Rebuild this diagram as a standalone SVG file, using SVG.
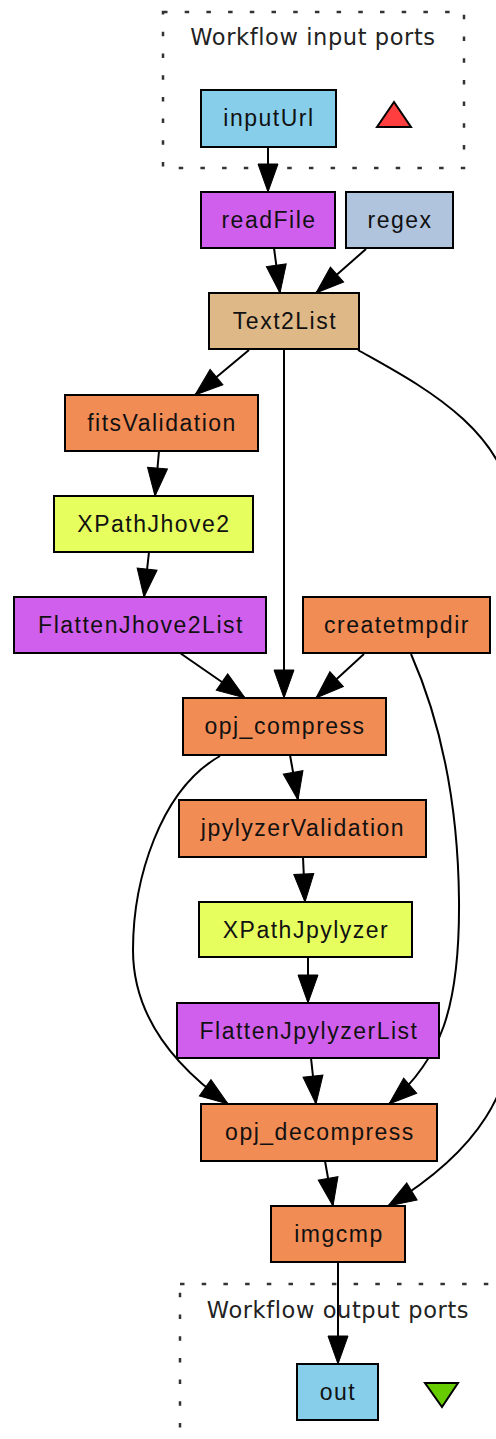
<svg xmlns="http://www.w3.org/2000/svg" width="496" height="1439" viewBox="0 0 496 1439">
<style>
.cl{fill:none;stroke:#333;stroke-width:2.5;stroke-dasharray:4.5 17.2}
.ct{font-family:"DejaVu Sans",sans-serif;font-size:22.5px;letter-spacing:0.6px;fill:#222;text-anchor:middle}
.n{stroke:#000;stroke-width:2}
.t{font-family:"Liberation Sans",Arial,sans-serif;font-size:23px;letter-spacing:1.5px;fill:#111;text-anchor:middle}
.e{fill:none;stroke:#000;stroke-width:2;marker-end:url(#ah)}
.or{fill:#f28c55}.pu{fill:#d15fee}.ye{fill:#e6ff5e}.tan{fill:#deb887}.sb{fill:#87ceeb}.ls{fill:#b0c4de}
</style>
<defs>
<marker id="ah" markerUnits="userSpaceOnUse" markerWidth="30" markerHeight="22" refX="28" refY="10" orient="auto" overflow="visible">
<path d="M0,0 L28,10 L0,20 Z" fill="#000" stroke="#000" stroke-width="1"/>
</marker>
</defs>
<rect width="496" height="1439" fill="#fff"/>
<g id="cluster_inputs">
<rect class="cl" x="163" y="12" width="301" height="156"/>
<text class="ct" x="313" y="45">Workflow input ports</text>
<polygon points="377,127 411,127 394,102" fill="#ff3f3f" stroke="#000" stroke-width="2"/>
</g>
<g id="cluster_outputs">
<rect class="cl" x="180" y="1284" width="360" height="200"/>
<text class="ct" x="338" y="1318">Workflow output ports</text>
<polygon points="425,1383 458,1383 442,1407" fill="#66cc00" stroke="#000" stroke-width="2"/>
</g>
<g id="connectors">
<path class="e" d="M268,147 L268,192"/>
<path class="e" d="M274,248 L280,293"/>
<path class="e" d="M366,249 L316,293"/>
<path class="e" d="M249,350 L195,395"/>
<path class="e" d="M284,349 L284,698"/>
<path class="e" d="M358,350 C420,385 510,430 515,520 L515,1010 C515,1090 480,1150 388,1206"/>
<path class="e" d="M159,451 L155,496"/>
<path class="e" d="M149,552 L144,597"/>
<path class="e" d="M180,653 L245,698"/>
<path class="e" d="M364,654 L316,698"/>
<path class="e" d="M411,654 C440,720 458,800 459,900 C460,1010 440,1060 389,1104"/>
<path class="e" d="M290,755 L298,800"/>
<path class="e" d="M220,756 C160,790 133,880 133,950 C133,1020 180,1070 228,1104"/>
<path class="e" d="M303,857 L305,902"/>
<path class="e" d="M308,957 L308,1003"/>
<path class="e" d="M311,1058 L316,1104"/>
<path class="e" d="M325,1161 L333,1206"/>
<path class="e" d="M338,1262 L338,1364"/>
</g>
<g id="inputUrl"><rect class="n sb" x="201" y="90" width="135" height="57"/><text class="t" x="269" y="126">inputUrl</text></g>
<g id="readFile"><rect class="n pu" x="201" y="192" width="134" height="56"/><text class="t" x="269" y="228">readFile</text></g>
<g id="regex"><rect class="n ls" x="346" y="192" width="107" height="56"/><text class="t" x="400" y="228">regex</text></g>
<g id="Text2List"><rect class="n tan" x="209" y="293" width="150" height="56"/><text class="t" x="285" y="329">Text2List</text></g>
<g id="fitsValidation"><rect class="n or" x="65" y="395" width="193" height="56"/><text class="t" x="162" y="431">fitsValidation</text></g>
<g id="XPathJhove2"><rect class="n ye" x="54" y="496" width="199" height="56"/><text class="t" x="154" y="532">XPathJhove2</text></g>
<g id="FlattenJhove2List"><rect class="n pu" x="14" y="597" width="252" height="56"/><text class="t" x="141" y="633">FlattenJhove2List</text></g>
<g id="createtmpdir"><rect class="n or" x="303" y="597" width="187" height="56"/><text class="t" x="397" y="633">createtmpdir</text></g>
<g id="opj_compress"><rect class="n or" x="183" y="698" width="203" height="57"/><text class="t" x="285" y="734">opj_compress</text></g>
<g id="jpylyzerValidation"><rect class="n or" x="179" y="800" width="247" height="57"/><text class="t" x="303" y="836">jpylyzerValidation</text></g>
<g id="XPathJpylyzer"><rect class="n ye" x="199" y="902" width="213" height="55"/><text class="t" x="306" y="938">XPathJpylyzer</text></g>
<g id="FlattenJpylyzerList"><rect class="n pu" x="177" y="1003" width="262" height="55"/><text class="t" x="309" y="1039">FlattenJpylyzerList</text></g>
<g id="opj_decompress"><rect class="n or" x="201" y="1104" width="236" height="57"/><text class="t" x="320" y="1140">opj_decompress</text></g>
<g id="imgcmp"><rect class="n or" x="271" y="1206" width="134" height="56"/><text class="t" x="339" y="1242">imgcmp</text></g>
<g id="out"><rect class="n sb" x="297" y="1364" width="81" height="56"/><text class="t" x="338" y="1400">out</text></g>
</svg>
